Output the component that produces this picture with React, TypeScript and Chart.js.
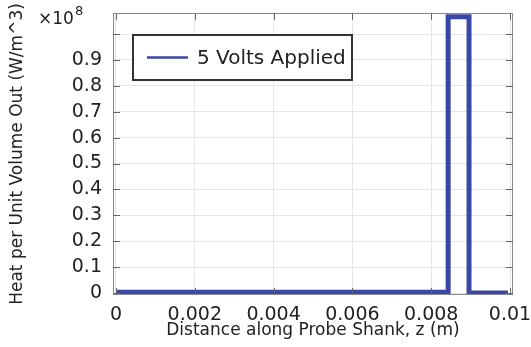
import React, { useEffect, useRef } from "react";
import { Chart, registerables } from "chart.js";

Chart.register(...registerables);

// Data (heat values in units of 1e8 W/m^3)
const seriesLabel = "5 Volts Applied";
const zValues = [0, 0.00843, 0.00843, 0.00896, 0.00896, 0.00995];
const heatValues = [0.003, 0.003, 1.067, 1.067, 0, 0];
const xTicks = [0, 0.002, 0.004, 0.006, 0.008, 0.01];
const yTicks = [0, 0.1, 0.2, 0.3, 0.4, 0.5, 0.6, 0.7, 0.8, 0.9, 1.0];
const xTitle = "Distance along Probe Shank, z (m)";
const yTitle = "Heat per Unit Volume Out (W/m^3)";
const exponentBase = "\u00d710";
const exponentPower = "8";

const FONT = "'DejaVu Sans', sans-serif";
const LINE_COLOR = "#3a48a5";

const framePlugin = {
  id: "framePlugin",
  afterDatasetsDraw(chart: any) {
    const { ctx, chartArea } = chart;
    const { left, top } = chartArea;
    // legend box
    ctx.save();
    const bx = left + 20, by = top + 22, bw = 219, bh = 45;
    ctx.fillStyle = "#ffffff";
    ctx.fillRect(bx, by, bw, bh);
    ctx.strokeStyle = "#333333";
    ctx.lineWidth = 2;
    ctx.strokeRect(bx, by, bw, bh);
    ctx.strokeStyle = LINE_COLOR;
    ctx.lineWidth = 2.5;
    ctx.beginPath();
    ctx.moveTo(bx + 14, by + bh / 2);
    ctx.lineTo(bx + 55, by + bh / 2);
    ctx.stroke();
    ctx.fillStyle = "#222222";
    ctx.font = `20px ${FONT}`;
    ctx.textBaseline = "middle";
    ctx.textAlign = "left";
    ctx.fillText(chart.data.datasets[0].label, bx + 64, by + bh / 2 + 1);
    ctx.restore();
  },
  afterDraw(chart: any) {
    const { ctx, chartArea, scales } = chart;
    const { left, right, top, bottom } = chartArea;
    ctx.save();
    ctx.strokeStyle = "#8a8a8a";
    ctx.lineWidth = 1;
    ctx.strokeRect(left + 0.5, top + 0.5, right - left - 1, bottom - top - 1);
    ctx.strokeStyle = "#666666";
    const tl = 7;
    ctx.beginPath();
    for (const v of xTicks) {
      const px = Math.round(scales.x.getPixelForValue(v)) + 0.5;
      ctx.moveTo(px, bottom);
      ctx.lineTo(px, bottom - tl);
      ctx.moveTo(px, top);
      ctx.lineTo(px, top + tl);
    }
    for (const v of yTicks) {
      const py = Math.round(scales.y.getPixelForValue(v)) + 0.5;
      ctx.moveTo(left, py);
      ctx.lineTo(left + tl, py);
      ctx.moveTo(right, py);
      ctx.lineTo(right - tl, py);
    }
    ctx.stroke();
    // exponent label
    ctx.fillStyle = "#222222";
    ctx.textAlign = "left";
    ctx.textBaseline = "alphabetic";
    ctx.font = `17px ${FONT}`;
    ctx.fillText(exponentBase, 38, 24);
    const w = ctx.measureText(exponentBase).width;
    ctx.font = `13px ${FONT}`;
    ctx.fillText(exponentPower, 38 + w + 1, 15);
    ctx.restore();
  },
};

export default function App() {
  const ref = useRef<HTMLCanvasElement | null>(null);
  useEffect(() => {
    if (!ref.current) return;
    const chart = new Chart(ref.current, {
      type: "line",
      data: {
        datasets: [
          {
            label: seriesLabel,
            data: zValues.map((x, i) => ({ x, y: heatValues[i] })),
            borderColor: LINE_COLOR,
            backgroundColor: LINE_COLOR,
            borderWidth: 5,
            pointRadius: 0,
            tension: 0,
            borderJoinStyle: "miter",
            fill: false,
          },
        ],
      },
      options: {
        responsive: false,
        animation: false,
        devicePixelRatio: 1,
        layout: { padding: { top: 13, right: 18, left: 0, bottom: 0 } },
        plugins: { legend: { display: false }, tooltip: { enabled: false } },
        scales: {
          x: {
            type: "linear",
            min: -0.000076,
            max: 0.010076,
            afterBuildTicks: (s: any) => {
              s.ticks = xTicks.map((v) => ({ value: v }));
            },
            afterFit: (s: any) => {
              s.height = 52;
              s.paddingLeft = 0;
              s.paddingRight = 0;
            },
            ticks: {
              autoSkip: false,
              maxRotation: 0,
              padding: 9,
              color: "#222222",
              font: { family: FONT, size: 19 },
              callback: (v: any) => String(Number(Number(v).toFixed(3))),
            },
            grid: { color: "#e6e6e6", drawTicks: false },
            border: { display: false },
            title: {
              display: true,
              text: xTitle,
              color: "#222222",
              font: { family: FONT, size: 17 },
              padding: { top: 0, bottom: 6 },
            },
          },
          y: {
            type: "linear",
            min: -0.0077,
            max: 1.0815,
            afterBuildTicks: (s: any) => {
              s.ticks = yTicks.map((v) => ({ value: v }));
            },
            afterFit: (s: any) => {
              s.width = 113;
              s.paddingTop = 0;
              s.paddingBottom = 0;
            },
            ticks: {
              autoSkip: false,
              padding: 11,
              color: "#222222",
              font: { family: FONT, size: 19 },
              callback: (v: any) =>
                Math.abs(Number(v) - 1) < 1e-9 ? "" : String(Number(Number(v).toFixed(1))),
            },
            grid: { color: "#e6e6e6", drawTicks: false },
            border: { display: false },
            title: {
              display: true,
              text: yTitle,
              color: "#222222",
              font: { family: FONT, size: 17 },
              padding: { top: 7, bottom: 0 },
            },
          },
        },
      },
      plugins: [framePlugin],
    } as any);
    return () => chart.destroy();
  }, []);
  return (
    <div style={{ position: "absolute", left: 0, top: 0, width: 531, height: 347, background: "#fff" }}>
      <canvas ref={ref} width={531} height={347} style={{ display: "block" }} />
    </div>
  );
}
